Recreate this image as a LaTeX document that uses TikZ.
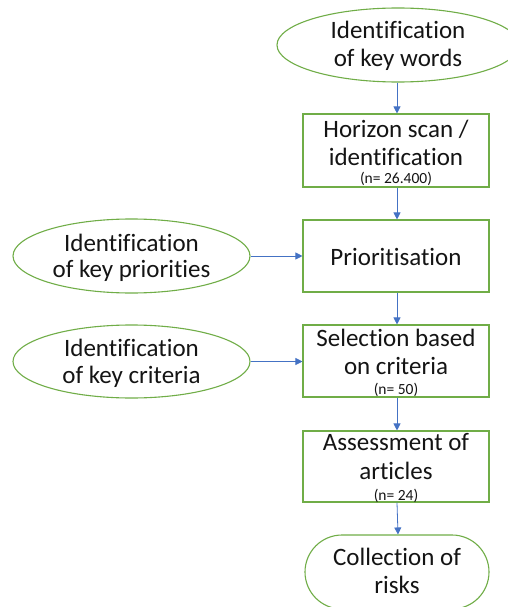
\documentclass[tikz,border=0pt]{standalone}
\usepackage{fontspec}
\setmainfont[Ligatures={NoCommon}]{Carlito}
\usetikzlibrary{shapes.geometric,arrows.meta}
\definecolor{boxgreen}{HTML}{70AD47}
\definecolor{arrowblue}{HTML}{4472C4}
\definecolor{txt}{HTML}{141414}
\tikzset{
  greenbox/.style={draw=boxgreen,line width=1.1pt,fill=white,rectangle,inner sep=0pt,minimum width=186pt},
  greenell/.style={draw=boxgreen,line width=1.1pt,fill=white,ellipse,inner sep=0pt},
  stadium/.style={draw=boxgreen,line width=1.1pt,fill=white,rectangle,rounded corners=37pt,inner sep=0pt,minimum width=184pt,minimum height=74pt},
  bigtxt/.style={font=\fontsize{25}{28}\selectfont,text=txt,anchor=base,inner sep=0pt},
  smalltxt/.style={font=\fontsize{15.5}{18}\selectfont,text=txt,anchor=base,inner sep=0pt},
  conn/.style={draw=arrowblue,line width=0.8pt,-{Triangle[length=7pt,width=7pt]}}
}
\begin{document}
\begin{tikzpicture}[x=1pt,y=-1pt]
\useasboundingbox (0,0) rectangle (508,607);
% shapes
\node[greenell,minimum width=242pt,minimum height=74pt] (kw) at (398,45) {};
\node[greenell,minimum width=237pt,minimum height=74pt] (kp) at (131.5,256) {};
\node[greenell,minimum width=237pt,minimum height=73pt] (kc) at (131.5,361.5) {};
\node[greenbox,minimum height=73pt] (hs) at (396,150.5) {};
\node[greenbox,minimum height=72pt] (pr) at (396,256) {};
\node[greenbox,minimum height=72pt] (se) at (396,361) {};
\node[greenbox,minimum height=71pt] (as) at (396,466.5) {};
\node[stadium] (co) at (397,572) {};
% texts
\node[bigtxt] (kw1) at (398,39) {Identification};
\node[bigtxt] (kw2) at (398,67) {of key words};
\node[bigtxt] (kp1) at (131.5,251) {Identification};
\node[bigtxt] (kp2) at (131.5,277) {of key priorities};
\node[bigtxt] (kc1) at (131.5,356) {Identification};
\node[bigtxt] (kc2) at (131.5,383) {of key criteria};
\node[bigtxt] (hs1) at (396,137) {Horizon scan /};
\node[bigtxt] (hs2) at (396,165) {identification};
\node[bigtxt] (pr1) at (396,265) {Prioritisation};
\node[bigtxt] (se1) at (396,346) {Selection based};
\node[bigtxt] (se2) at (396,374) {on criteria};
\node[bigtxt] (as1) at (396,450) {Assessment of};
\node[bigtxt] (as2) at (396,479) {articles};
\node[bigtxt] (co1) at (397,565) {Collection of};
\node[bigtxt] (co2) at (397,593) {risks};
% connectors
\draw[conn] (kw.south -| hs.north) ++(1,0) -- ([xshift=1pt]hs.north);
\draw[conn] ([xshift=1pt]hs.south) -- ([xshift=1pt]pr.north);
\draw[conn] ([xshift=1pt]pr.south) -- ([xshift=1pt]se.north);
\draw[conn] ([xshift=1pt]se.south) -- ([xshift=1pt]as.north);
\draw[conn] ([xshift=1pt]as.south) -- ([xshift=1pt]co.north);
\draw[conn] (kp.east) -- (kp.east -| pr.west);
\draw[conn] (kc.east) -- (kc.east -| se.west);
% small labels on top of box borders
\node[smalltxt] (hs3) at (396,183) {(n= 26.400)};
\node[smalltxt] (se3) at (396,394) {(n= 50)};
\node[smalltxt] (as3) at (396,500) {(n= 24)};
\end{tikzpicture}
\end{document}
